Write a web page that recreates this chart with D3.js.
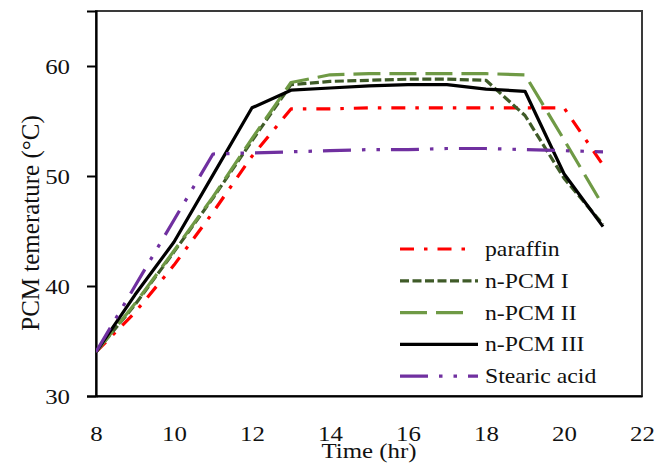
<!DOCTYPE html>
<html>
<head>
<meta charset="utf-8">
<script src="https://cdn.jsdelivr.net/npm/d3@7"></script>
<style>
  html, body { margin: 0; padding: 0; background: #fff; }
  svg { display: block; }
  text { font-family: "Liberation Serif", "Times New Roman", serif; fill: #111; }
</style>
</head>
<body>
<div id="chart"></div>
<script>
// Hourly PCM temperatures (°C)
const hours = [8, 9, 10, 11, 12, 13, 14, 15, 16, 17, 18, 19, 20, 21];
const paraffin = [34, 37.6, 41.9, 46.7, 51.8, 56.1, 56.1, 56.2, 56.2, 56.2, 56.2, 56.2, 56.2, 51.0];
const nPcmI    = [34, 38.3, 43.1, 48.0, 53.2, 58.3, 58.6, 58.7, 58.8, 58.8, 58.7, 55.5, 49.8, 45.6];
const nPcmII   = [34, 38.4, 43.2, 48.1, 53.4, 58.5, 59.2, 59.3, 59.3, 59.3, 59.3, 59.2, 53.3, 47.3];
const nPcmIII  = [34, 39.2, 44.0, 50.1, 56.2, 57.8, 58.0, 58.2, 58.3, 58.3, 57.9, 57.7, 50.2, 45.4];
const stearic  = [34, 40.0, 46.0, 52.0, 52.1, 52.2, 52.3, 52.4, 52.4, 52.5, 52.5, 52.4, 52.3, 52.2];

const seriesNames = ["paraffin", "n-PCM I", "n-PCM II", "n-PCM III", "Stearic acid"];
const xTicks = [8, 10, 12, 14, 16, 18, 20, 22];
const yTicks = [30, 40, 50, 60];

const series = [
  { name: seriesNames[0], values: paraffin, color: "#ff0000", dash: "14,10,3.5,10" },
  { name: seriesNames[1], values: nPcmI,    color: "#3f5b28", dash: "9,3.5" },
  { name: seriesNames[2], values: nPcmII,   color: "#6f9a45", dash: "27,9" },
  { name: seriesNames[3], values: nPcmIII,  color: "#000000", dash: null },
  { name: seriesNames[4], values: stearic,  color: "#7030a0", dash: "28,11,3.5,11,3.5,11" }
];

const W = 655, H = 468;
const plot = { left: 96, right: 642, top: 11, bottom: 396 };
const stretch = 1.13;

const svg = d3.select("#chart").append("svg").attr("width", W).attr("height", H);
svg.append("rect").attr("width", W).attr("height", H).attr("fill", "#fff");

const x = d3.scaleLinear().domain([8, 22]).range([plot.left, plot.right]);
const y = d3.scaleLinear().domain([30, 65]).range([plot.bottom, plot.top]);

// plot frame
svg.append("rect")
  .attr("x", plot.left).attr("y", plot.top)
  .attr("width", plot.right - plot.left).attr("height", plot.bottom - plot.top)
  .attr("fill", "none").attr("stroke", "#3a3a3a").attr("stroke-width", 2);

// y axis
const yAxis = d3.axisLeft(y).tickValues(yTicks).tickSize(9).tickPadding(0).tickFormat(d3.format("d"));
const gy = svg.append("g").attr("transform", `translate(${plot.left},0)`).call(yAxis);
gy.select(".domain").attr("stroke", "#000").attr("stroke-width", 2.2);
gy.selectAll(".tick line").attr("stroke", "#000").attr("stroke-width", 2);
gy.selectAll(".tick text")
  .attr("x", null).attr("dy", null)
  .attr("font-size", 22)
  .attr("text-anchor", "end")
  .attr("transform", `translate(-26,7.5) scale(${stretch},1)`);

// x axis (labels only, no tick marks)
const xAxis = d3.axisBottom(x).tickValues(xTicks).tickSize(0).tickPadding(0).tickFormat(d3.format("d"));
const gx = svg.append("g").attr("transform", `translate(0,${plot.bottom})`).call(xAxis);
gx.select(".domain").attr("stroke", "#000").attr("stroke-width", 2.2);
gx.selectAll(".tick text")
  .attr("y", null).attr("dy", null)
  .attr("font-size", 22)
  .attr("text-anchor", "middle")
  .attr("transform", `translate(0,45) scale(${stretch},1)`);

// axis titles
svg.append("text")
  .attr("font-size", 22)
  .attr("text-anchor", "middle")
  .attr("transform", `translate(${(plot.left + plot.right) / 2},458) scale(${stretch},1)`)
  .text("Time (hr)");

svg.append("text")
  .attr("font-size", 25)
  .attr("text-anchor", "middle")
  .attr("transform", `translate(39,223) rotate(-90)`)
  .text("PCM temerature (°C)");

// series lines
const line = d3.line()
  .x((d, i) => x(hours[i]))
  .y(d => y(d));

svg.append("clipPath").attr("id", "plot-clip").append("rect")
  .attr("x", plot.left).attr("y", plot.top)
  .attr("width", plot.right - plot.left).attr("height", plot.bottom - plot.top);

svg.append("g").attr("clip-path", "url(#plot-clip)")
  .selectAll("path")
  .data(series)
  .join("path")
  .attr("d", s => line(s.values))
  .attr("fill", "none")
  .attr("stroke", s => s.color)
  .attr("stroke-width", 3.2)
  .attr("stroke-linejoin", "round")
  .attr("stroke-dasharray", s => s.dash);

// legend
const legend = svg.append("g");
const legendTop = 249, legendStep = 31.8;
const item = legend.selectAll("g")
  .data(series)
  .join("g")
  .attr("transform", (s, i) => `translate(400,${legendTop + i * legendStep})`);
item.append("line")
  .attr("x1", 0).attr("x2", (s, i) => (i === 0 || i === 2) ? 68 : 78)
  .attr("y1", 0).attr("y2", 0)
  .attr("stroke", s => s.color)
  .attr("stroke-width", 3.2)
  .attr("stroke-dasharray", s => s.dash);
item.append("text")
  .attr("font-size", 21)
  .attr("transform", `translate(85,7) scale(${stretch},1)`)
  .text(s => s.name);
</script>
</body>
</html>
